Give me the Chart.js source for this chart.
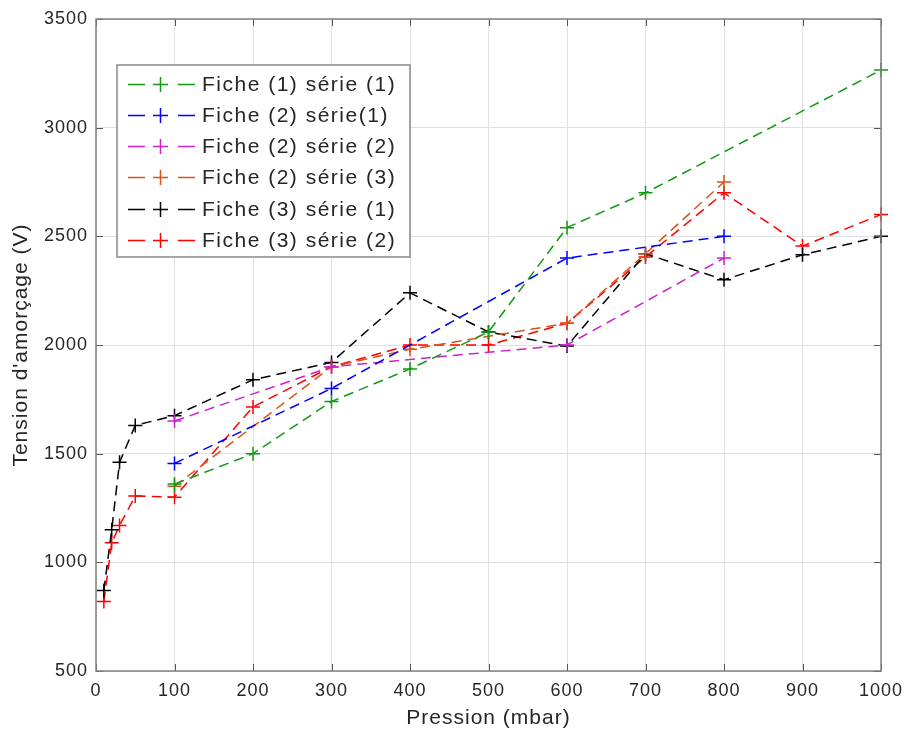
<!DOCTYPE html>
<html>
<head>
<meta charset="utf-8">
<script src="https://cdn.jsdelivr.net/npm/chart.js@4"></script>
<style>
  body { margin: 0; background: #fff; }
</style>
</head>
<body>
<canvas id="chart" width="906" height="731"></canvas>
<script>
// pression (mbar) / tension d'amorçage (V) pour chaque série
const seriesLabels = [
  'Fiche (1) série (1)',
  'Fiche (2) série(1)',
  'Fiche (2) série (2)',
  'Fiche (2) série (3)',
  'Fiche (3) série (1)',
  'Fiche (3) série (2)',
];
const seriesColors = ['#119911', '#0000ff', '#cc22cc', '#d95319', '#000000', '#ff0000'];

const pressionF1S1 = [100, 200, 300, 400, 500, 600, 700, 1000];
const tensionF1S1 = [1360, 1500, 1740, 1890, 2060, 2540, 2700, 3265];

const pressionF2S1 = [100, 300, 600, 800];
const tensionF2S1 = [1455, 1800, 2400, 2500];

const pressionF2S2 = [100, 300, 600, 800];
const tensionF2S2 = [1650, 1900, 2000, 2400];

const pressionF2S3 = [100, 300, 400, 600, 700, 800];
const tensionF2S3 = [1350, 1900, 1980, 2100, 2420, 2750];

const pressionF3S1 = [10, 20, 30, 50, 100, 200, 300, 400, 500, 600, 700, 800, 900, 1000];
const tensionF3S1 = [870, 1150, 1460, 1630, 1675, 1840, 1920, 2240, 2060, 1995, 2420, 2300, 2415, 2500];

const pressionF3S2 = [10, 20, 30, 50, 100, 200, 300, 400, 500, 600, 700, 800, 900, 1000];
const tensionF3S2 = [820, 1090, 1170, 1305, 1300, 1715, 1900, 2000, 2000, 2100, 2405, 2700, 2455, 2600];

const xTicks = [0, 100, 200, 300, 400, 500, 600, 700, 800, 900, 1000];
const yTicks = [500, 1000, 1500, 2000, 2500, 3000, 3500];

const pressions = [pressionF1S1, pressionF2S1, pressionF2S2, pressionF2S3, pressionF3S1, pressionF3S2];
const tensions = [tensionF1S1, tensionF2S1, tensionF2S2, tensionF2S3, tensionF3S1, tensionF3S2];

const FONT = "'Liberation Sans', Arial, sans-serif";
const TEXT = '#262626';

const datasets = seriesLabels.map((label, i) => ({
  label,
  data: pressions[i].map((p, k) => ({ x: p, y: tensions[i][k] })),
  borderColor: seriesColors[i],
  pointBorderColor: seriesColors[i],
  backgroundColor: seriesColors[i],
  borderWidth: 1.5,
  borderDash: [10, 6],
  pointStyle: 'cross',
  pointRadius: 7,
  pointBorderWidth: 1.5,
  tension: 0,
  fill: false,
  clip: false,
}));

// axes box with inward ticks + legend inside the plot
const matlabAxes = {
  id: 'matlabAxes',
  beforeDraw(chart) {
    const ctx = chart.ctx;
    ctx.save();
    ctx.fillStyle = '#fff';
    ctx.fillRect(0, 0, chart.width, chart.height);
    ctx.restore();
    ctx.letterSpacing = '1px';
  },
  afterDatasetsDraw(chart) {
    const { ctx, chartArea: a, scales } = chart;
    ctx.save();
    ctx.setLineDash([]);
    ctx.strokeStyle = '#555';
    ctx.lineWidth = 1;
    const tl = 7;
    ctx.beginPath();
    xTicks.forEach(v => {
      const px = Math.round(scales.x.getPixelForValue(v)) + 0.5;
      ctx.moveTo(px, a.bottom); ctx.lineTo(px, a.bottom - tl);
      ctx.moveTo(px, a.top); ctx.lineTo(px, a.top + tl);
    });
    yTicks.forEach(v => {
      const py = Math.round(scales.y.getPixelForValue(v)) + 0.5;
      ctx.moveTo(a.left, py); ctx.lineTo(a.left + tl, py);
      ctx.moveTo(a.right, py); ctx.lineTo(a.right - tl, py);
    });
    ctx.stroke();
    ctx.strokeStyle = '#808080';
    ctx.lineWidth = 1.5;
    ctx.strokeRect(a.left, a.top, a.right - a.left, a.bottom - a.top);

    // legend
    const bx = 117, by = 65, bw = 293, bh = 192;
    ctx.fillStyle = '#fff';
    ctx.fillRect(bx, by, bw, bh);
    ctx.strokeStyle = '#888';
    ctx.lineWidth = 1.5;
    ctx.strokeRect(bx, by, bw, bh);
    ctx.font = '21px ' + FONT;
    ctx.letterSpacing = '1.5px';
    ctx.textBaseline = 'middle';
    ctx.textAlign = 'left';
    chart.data.datasets.forEach((ds, i) => {
      const y = Math.round(83.5 + i * 31.3) + 0.5;
      ctx.strokeStyle = ds.borderColor;
      ctx.lineWidth = 1.5;
      ctx.beginPath();
      ctx.moveTo(128, y); ctx.lineTo(145, y);
      ctx.moveTo(178, y); ctx.lineTo(195, y);
      ctx.moveTo(153, y); ctx.lineTo(168, y);
      ctx.moveTo(160.5, y - 7.5); ctx.lineTo(160.5, y + 7.5);
      ctx.stroke();
      ctx.fillStyle = TEXT;
      ctx.fillText(ds.label, 202, y + 1);
    });
    ctx.restore();
  },
};

new Chart(document.getElementById('chart'), {
  type: 'line',
  data: { datasets },
  options: {
    responsive: false,
    animation: false,
    events: [],
    layout: { padding: { top: 19, right: 25, left: 0, bottom: 0 } },
    plugins: { legend: { display: false }, tooltip: { enabled: false } },
    scales: {
      x: {
        type: 'linear',
        min: 0,
        max: 1000,
        afterFit: s => { s.height = 60; s.paddingRight = 0; s.paddingLeft = 0; },
        afterBuildTicks: s => { s.ticks = xTicks.map(v => ({ value: v })); },
        grid: { color: '#e0e0e0', drawTicks: false },
        border: { display: false },
        ticks: { color: TEXT, font: { family: FONT, size: 18 }, padding: 9, maxRotation: 0, callback: v => String(v) },
        title: { display: true, text: 'Pression (mbar)', color: TEXT, font: { family: FONT, size: 21 }, padding: 0 },
      },
      y: {
        min: 500,
        max: 3500,
        afterFit: s => { s.width = 96; s.paddingTop = 0; s.paddingBottom = 0; },
        afterBuildTicks: s => { s.ticks = yTicks.map(v => ({ value: v })); },
        grid: { color: '#e0e0e0', drawTicks: false },
        border: { display: false },
        ticks: { color: TEXT, font: { family: FONT, size: 18 }, padding: 8, callback: v => String(v) },
        title: { display: true, text: "Tension d'amorçage (V)", color: TEXT, font: { family: FONT, size: 21 }, padding: { top: 9, bottom: 0 } },
      },
    },
  },
  plugins: [matlabAxes],
});
</script>
</body>
</html>
